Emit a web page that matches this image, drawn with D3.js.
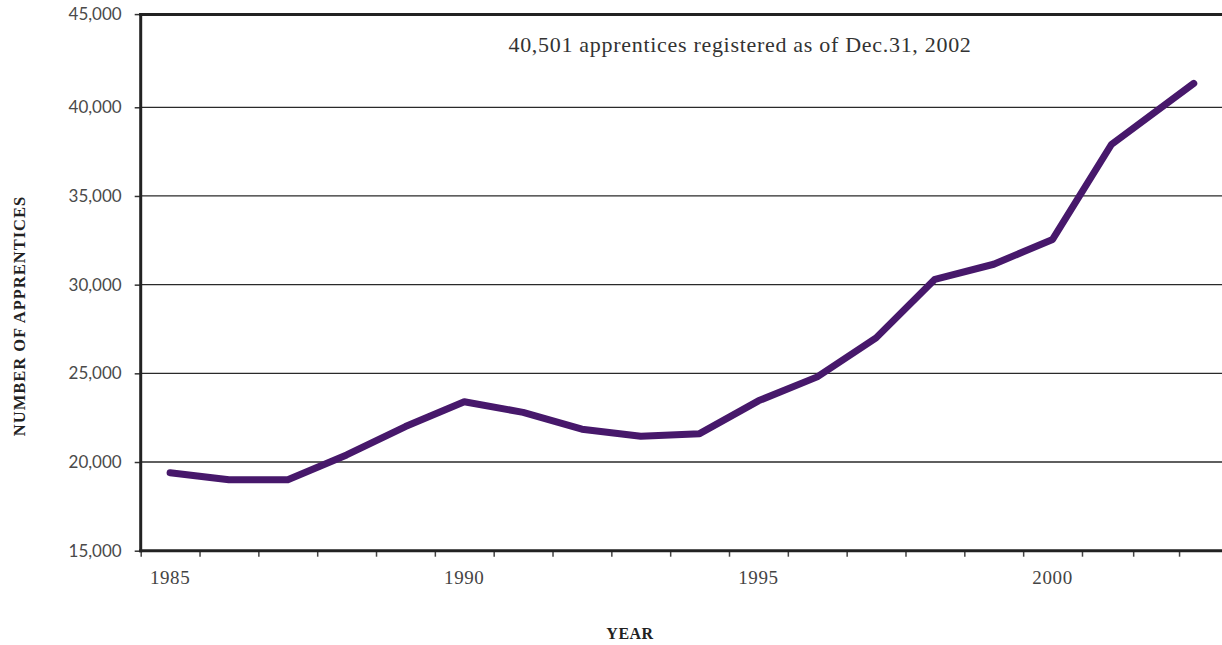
<!DOCTYPE html>
<html>
<head>
<meta charset="utf-8">
<script src="https://cdn.jsdelivr.net/npm/d3@7"></script>
<style>
  html, body { margin: 0; padding: 0; background: #fff; }
  svg { display: block; }
</style>
</head>
<body>
<svg id="chart" width="1222" height="645"></svg>
<script>
// ---- data ----
const years = [1985, 1986, 1987, 1988, 1989, 1990, 1991, 1992, 1993, 1994, 1995, 1996, 1997, 1998, 1999, 2000, 2001, 2002.4];
const apprentices = [19400, 19000, 19000, 20400, 22000, 23400, 22800, 21850, 21450, 21600, 23450, 24800, 27000, 30300, 31150, 32550, 37900, 41350];
const yTicks = [15000, 20000, 25000, 30000, 35000, 40000, 45000];
const xLabels = [1985, 1990, 1995, 2000];
const xTickMarks = [1984.5, 1985.5, 1986.5, 1987.5, 1988.5, 1989.5, 1990.5, 1991.5, 1992.5, 1993.5, 1994.5, 1995.5, 1996.5, 1997.5, 1998.5, 1999.5, 2000.5, 2001.37, 2002.15];
const annotation = "40,501 apprentices registered as of Dec.31, 2002";
const xTitle = "YEAR";
const yTitle = "NUMBER OF APPRENTICES";

// ---- layout ----
const svg = d3.select("#chart");
const plotLeft = 140.7, plotRight = 1222, plotBottom = 550.7, plotTop = 18.6;

const x = d3.scaleLinear().domain([1984.5, 2002.88]).range([plotLeft, plotRight]);
const y = d3.scaleLinear().domain([15000, 45000]).range([plotBottom, plotTop]);

// gridlines
svg.append("g")
  .selectAll("line")
  .data(yTicks.filter(d => d > 15000 && d < 45000))
  .join("line")
  .attr("x1", plotLeft).attr("x2", plotRight)
  .attr("y1", d => y(d)).attr("y2", d => y(d))
  .attr("stroke", "#2a2a2a").attr("stroke-width", 1.3);

// y axis ticks and labels
const yAxis = d3.axisLeft(y)
  .tickValues(yTicks)
  .tickSize(6)
  .tickPadding(13)
  .tickFormat(d3.format(","));
const gy = svg.append("g").attr("transform", `translate(${plotLeft},0)`).call(yAxis);
gy.select(".domain").remove();
gy.selectAll(".tick line").attr("stroke", "#333").attr("stroke-width", 1.5);
gy.selectAll(".tick text")
  .attr("fill", "#4a4a4a")
  .style("font-family", "Lato, 'Open Sans', sans-serif")
  .style("font-size", "17px");
// top label sits on the frame
gy.selectAll(".tick").filter(d => d === 45000).attr("transform", `translate(0,${y(45000) - 4})`);

// x axis ticks
const xAxis = d3.axisBottom(x).tickValues(xTickMarks).tickSize(6).tickFormat("");
const gx = svg.append("g").attr("transform", `translate(0,${plotBottom})`).call(xAxis);
gx.select(".domain").remove();
gx.selectAll(".tick line").attr("stroke", "#444").attr("stroke-width", 1.5);

// x labels
svg.append("g")
  .selectAll("text")
  .data(xLabels)
  .join("text")
  .attr("x", d => x(d))
  .attr("y", plotBottom + 33)
  .attr("text-anchor", "middle")
  .attr("fill", "#444")
  .style("font-family", "'Liberation Serif', 'DejaVu Serif', serif")
  .style("font-size", "19px")
  .style("letter-spacing", "0.6px")
  .text(d => d);

// frame: left, bottom, top
svg.append("line").attr("x1", plotLeft).attr("x2", plotLeft).attr("y1", y(45000) - 5.5).attr("y2", plotBottom + 1.5)
  .attr("stroke", "#222").attr("stroke-width", 3);
svg.append("line").attr("x1", plotLeft - 1.5).attr("x2", plotRight).attr("y1", plotBottom).attr("y2", plotBottom)
  .attr("stroke", "#222").attr("stroke-width", 3);
svg.append("line").attr("x1", plotLeft - 1.5).attr("x2", plotRight).attr("y1", y(45000) - 4).attr("y2", y(45000) - 4)
  .attr("stroke", "#222").attr("stroke-width", 3);

// series line
const line = d3.line().x((d, i) => x(years[i])).y(d => y(d));
svg.append("path")
  .datum(apprentices)
  .attr("d", line)
  .attr("fill", "none")
  .attr("stroke", "#47186b")
  .attr("stroke-width", 7)
  .attr("stroke-linejoin", "round")
  .attr("stroke-linecap", "round");

// annotation
svg.append("text")
  .attr("x", 740)
  .attr("y", 52)
  .attr("text-anchor", "middle")
  .attr("fill", "#333")
  .style("font-family", "'Liberation Serif', 'DejaVu Serif', serif")
  .style("font-size", "22px")
  .style("letter-spacing", "0.7px")
  .text(annotation);

// axis titles
svg.append("text")
  .attr("x", 630)
  .attr("y", 639)
  .attr("text-anchor", "middle")
  .attr("fill", "#222")
  .style("font-family", "'Liberation Serif', 'DejaVu Serif', serif")
  .style("font-weight", "bold")
  .style("font-size", "16px")
  .style("letter-spacing", "0.5px")
  .text(xTitle);

svg.append("text")
  .attr("transform", "translate(25,316) rotate(-90)")
  .attr("text-anchor", "middle")
  .attr("fill", "#222")
  .style("font-family", "'Liberation Serif', 'DejaVu Serif', serif")
  .style("font-weight", "bold")
  .style("font-size", "16.5px")
  .style("letter-spacing", "1px")
  .text(yTitle);
</script>
</body>
</html>
